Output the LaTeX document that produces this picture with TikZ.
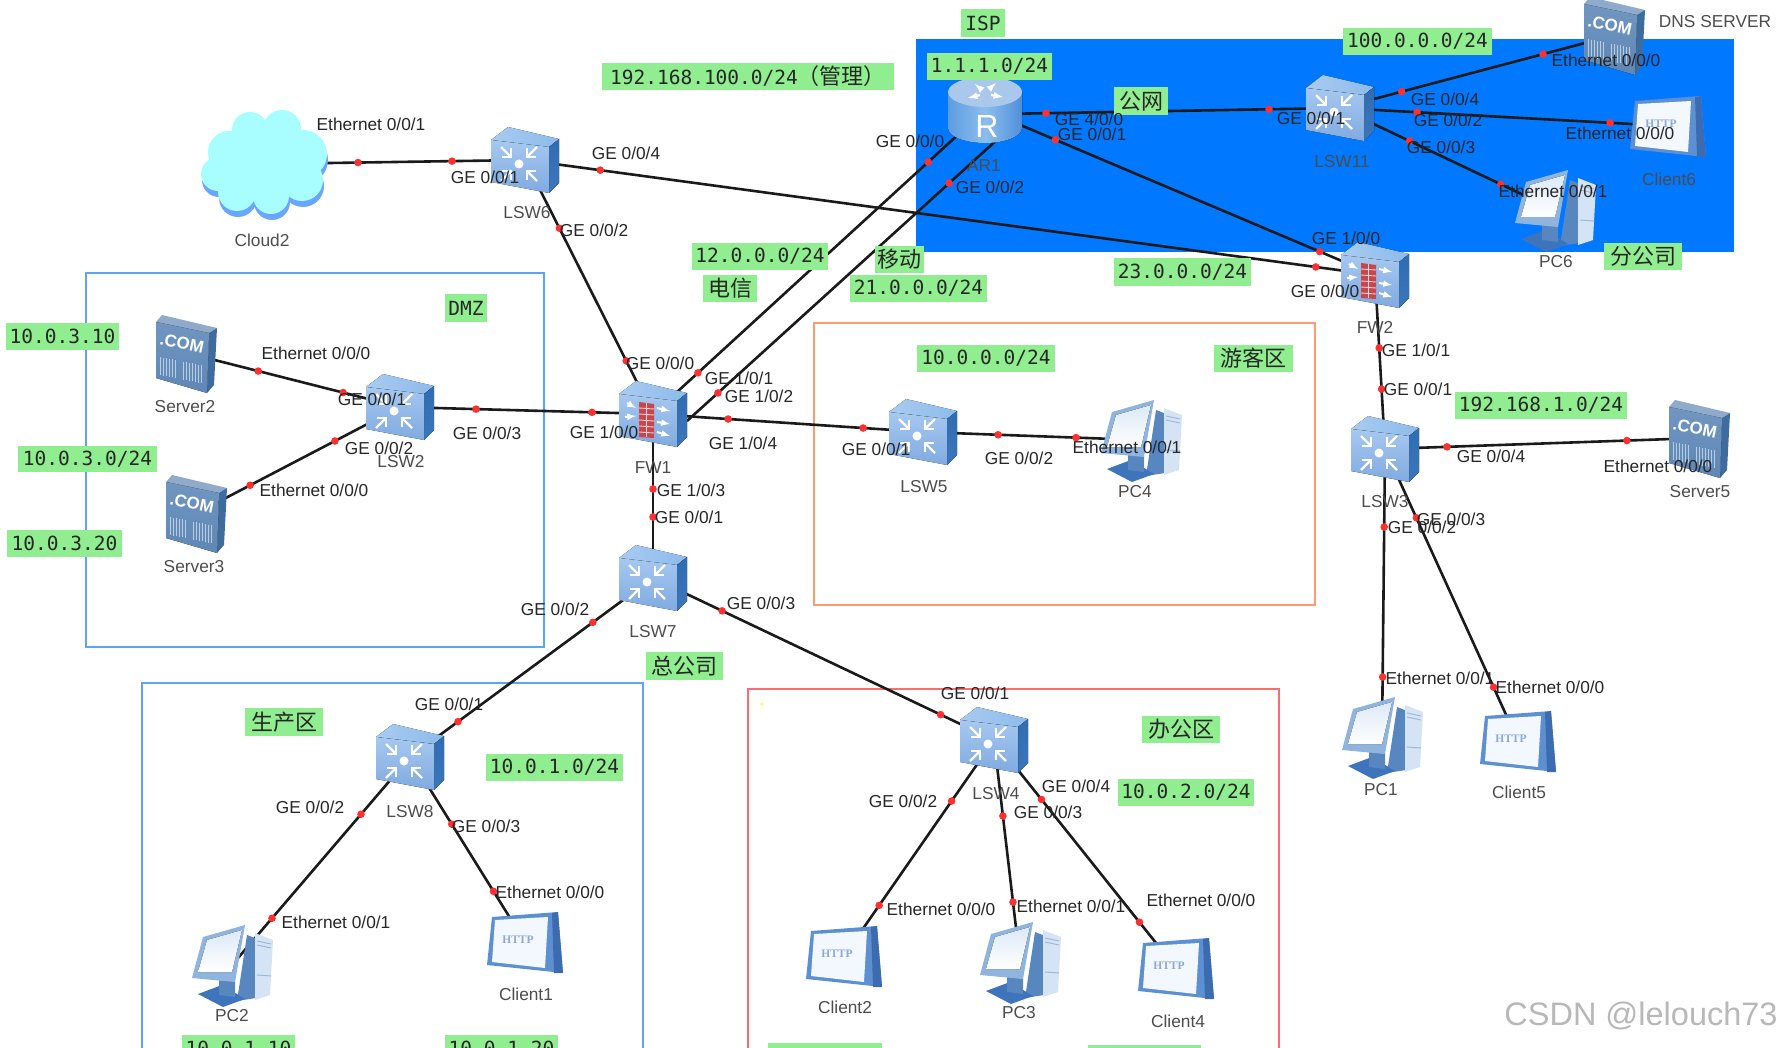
\documentclass[tikz,border=0pt]{standalone}
\usepackage{fontspec}
\setmainfont{Liberation Sans}
\setmonofont{DejaVu Sans Mono}
\newfontfamily\cjkfont{Noto Sans CJK SC}
\newfontfamily\serifhttp{Liberation Serif}
\usetikzlibrary{calc}
\pgfdeclarelayer{zones}
\pgfdeclarelayer{links}
\pgfsetlayers{zones,links,main}
\definecolor{zoneblue}{HTML}{5AA5F5}
\definecolor{zoneorange}{HTML}{FF9A6A}
\definecolor{zonered}{HTML}{FF6B6B}
\definecolor{ispblue}{HTML}{0078FF}
\definecolor{taggreen}{HTML}{90EE90}
\definecolor{dotred}{HTML}{FF3030}
\definecolor{linkdark}{HTML}{1A1A1A}
\definecolor{swtop}{HTML}{8DBBEC}
\definecolor{swtopb}{HTML}{A9CBF0}
\definecolor{swside}{HTML}{2F6DB2}
\definecolor{swsideb}{HTML}{3A76BC}
\definecolor{swfronta}{HTML}{A6C8F0}
\definecolor{swfrontb}{HTML}{80AAE0}
\definecolor{brickred}{HTML}{C8474F}
\definecolor{srvfronta}{HTML}{7096C0}
\definecolor{srvfrontb}{HTML}{5F87B5}
\definecolor{srvtop}{HTML}{8FAACB}
\definecolor{srvside}{HTML}{3F6C9E}
\definecolor{srvstripe}{HTML}{B8CCE2}
\definecolor{pcframe}{HTML}{8FB4DD}
\definecolor{pcscreen}{HTML}{DCE9F7}
\definecolor{pcdark}{HTML}{5787BE}
\definecolor{pclight}{HTML}{D5E4F4}
\definecolor{pcbase}{HTML}{3D74BC}
\definecolor{pcline}{HTML}{9DB8D8}
\definecolor{clframe}{HTML}{5D90D2}
\definecolor{clside}{HTML}{3C6CAF}
\definecolor{clscreen}{HTML}{F3F8FE}
\definecolor{clhttp}{HTML}{8FA8D8}
\definecolor{rtleft}{HTML}{5C9DE0}
\definecolor{rtmid}{HTML}{8DBDEE}
\definecolor{rtright}{HTML}{4F90DA}
\definecolor{rttop}{HTML}{A9C8EC}
\definecolor{cloudfill}{HTML}{A8FDFF}
\definecolor{cloudshade}{HTML}{6AA6FF}
\newcounter{lblc}
\tikzset{
  anchorpt/.style={inner sep=0pt,minimum size=1pt},
  wireline/.style={draw=linkdark,line width=2.6pt},
  zonebox/.style={line width=2pt},
  portlbl/.style={inner sep=0pt,text=black!85,font=\fontsize{17.3}{18}\selectfont},
  devlbl/.style={inner sep=0pt,text=black!70,font=\fontsize{17.3}{18}\selectfont},
  greentag/.style={fill=taggreen,inner sep=0pt,text=black!85,font=\ttfamily\fontsize{19.5}{20}\selectfont},
  swbody/.pic={
    \fill[left color=swtopb,right color=swtop] (-34,-20)--(-17,-33)--(34,-21)--(24,-13)--cycle;
    \fill[top color=swside,bottom color=swsideb] (24,-13)--(34,-21)--(34,23)--(24,33)--cycle;
    \fill[top color=swfronta,bottom color=swfrontb] (-34,-20)--(24,-13)--(24,33)--(-34,22)--cycle;
  },
  swicon/.pic={
    \pic {swbody};
    \fill[white] (-6,4) circle (4.5);
    \foreach \sx/\sy in {-1/-1,1/-1,-1/1,1/1}{
      \draw[white,line width=2.2pt] (-6+\sx*18,4+\sy*17)--(-6+\sx*8,4+\sy*7);
      \draw[white,line width=2.2pt] (-6+\sx*17,4+\sy*7)--(-6+\sx*8,4+\sy*7)--(-6+\sx*8,4+\sy*16);
    }
  },
  fwicon/.pic={
    \pic {swbody};
    \fill[brickred] (-14,-12)--(1,-10)--(1,24)--(-14,23)--cycle;
    \foreach \yy in {-6,0,6,12,18}{\draw[white!75!brickred,line width=.9pt] (-14,\yy)--(1,\yy+1);}
    \draw[white!75!brickred,line width=.9pt] (-7,-11)--(-7,23);
    \foreach \ax/\ay/\bx/\by in {-26/-11/-17/-6,-28/3/-17/2,4/-6/17/-3,4/8/17/10,4/18/17/22}{
      \draw[white,line width=2pt,-latex] (\ax,\ay)--(\bx,\by);
    }
  },
  routericon/.pic={
    \fill[left color=rtleft,right color=rtright,middle color=rtmid]
      (-37,-18) -- (-37,18) arc[start angle=180,end angle=0,x radius=37,y radius=15] -- (37,-18) -- cycle;
    \fill[rttop] (0,-18) ellipse[x radius=37,y radius=15];
    \foreach \a/\b/\c/\d in {-3/-20/-10/-26,4/-21/11/-27,-5/-15/-17/-12,6/-15/18/-13}{
      \draw[white,line width=2.2pt,-latex] (\a,\b)--(\c,\d);
    }
    \node[inner sep=0pt,text=white,font=\fontsize{32}{32}\selectfont] (rglyph) at (2,16) {R};
  },
  srvicon/.pic={
    \fill[srvtop] (-31,-31)--(-25,-38)--(30,-25)--(22,-20)--cycle;
    \fill[srvside] (22,-20)--(30,-25)--(27,32)--(20,40)--cycle;
    \fill[top color=srvfronta,bottom color=srvfrontb] (-31,-31)--(22,-20)--(20,40)--(-31,25)--cycle;
    \foreach \xx in {-27,-24,-21,-18,-15,-12,-4,-1,2,5,8,11,14}{
      \draw[srvstripe,line width=.8pt] (\xx,{4+(\xx+27)*.2})--(\xx,{22+(\xx+27)*.2});
    }
    \node[inner sep=0pt,text=white,rotate=-12,font=\bfseries\fontsize{17}{17}\selectfont] (comglyph) at (-5,-10) {.COM};
  },
  pcicon/.pic={
    \fill[pcdark] (15,-30)--(28,-25)--(24,33)--(5,36)--cycle;
    \fill[pclight] (23,-32)--(41,-25)--(38,30)--(23,35)--cycle;
    \draw[pcline,line width=1pt] (25,-24)--(39,-21) (25,-20)--(39,-17) (25,10)--(39,11);
    \fill[pcbase] (-34,29)--(-10,20)--(13,34)--(-9,42)--cycle;
    \fill[pcdark] (-13,14)--(3,16)--(3,32)--(-13,30)--cycle;
    \fill[pcframe] (-29,-28)--(13,-40)--(3,17)--(-40,13)--cycle;
    \fill[top color=pcscreen,bottom color=white] (-25,-25)--(10,-35)--(0,7)--(-34,7)--cycle;
  },
  clicon/.pic={
    \fill[clframe] (-33,-25)--(33,-30)--(38,31)--(-38,23)--cycle;
    \fill[clside] (27,-29)--(33,-30)--(38,31)--(29,31)--cycle;
    \fill[clscreen] (-30,-22)--(23,-25)--(20,26)--(-33,20)--cycle;
    \node[inner sep=0pt,text=clhttp,font=\serifhttp\bfseries\fontsize{11.5}{12}\selectfont] (httpglyph) at (-7,-2) {HTTP};
  },
  cloudicon/.pic={
    \foreach \fc/\dx/\dy in {cloudshade/1/6,cloudfill/0/0}{
      \fill[\fc,shift={(\dx,\dy)}]
        (-15,-34) circle (18) (17,-35) circle (19) (-36,-12) circle (21) (38,-10) circle (24)
        (-47,10) circle (17) (-28,28) circle (19) (6,32) circle (18) (37,16) circle (21) (0,0) circle (38);
    }
  },
}
\newcommand\place[4]{\node[anchorpt] (#1) at (#2,#3) {}; \pic at (#1) {#4};}
\newcommand\wire[6]{%
  \begin{pgfonlayer}{links}\draw[wireline] (#1)--(#2);\end{pgfonlayer}%
  \fill[dotred] ($(#1)!(#3,#4)!(#2)$) circle (3.8);
  \fill[dotred] ($(#1)!(#5,#6)!(#2)$) circle (3.8);
}
\newcommand\lbl[3]{\stepcounter{lblc}\edef\nmx{t\arabic{lblc}}\node[portlbl] (\nmx) at (#1,#2) {#3};}
\newcommand\dlbl[3]{\stepcounter{lblc}\edef\nmx{t\arabic{lblc}}\node[devlbl] (\nmx) at (#1,#2) {#3};}
\newcommand\glab[5]{\stepcounter{lblc}\edef\nmx{t\arabic{lblc}}\node[greentag,minimum width=#3pt-#1pt,minimum height=#4pt-#2pt] (\nmx) at ($(#1,#2)!.5!(#3,#4)$) {#5};}
\begin{document}
\begin{tikzpicture}[x=1pt,y=-1pt]
\useasboundingbox (0,0) rectangle (1784,1048);
\begin{pgfonlayer}{zones}
  \fill[ispblue] (916,39) rectangle (1734,252);
  \draw[zonebox,zoneblue] (86,273) rectangle (544,647);
  \draw[zonebox,zoneblue] (142,683) rectangle (643,1070);
  \draw[zonebox,zoneorange] (814,323) rectangle (1315,605);
  \draw[zonebox,zonered] (748,689) rectangle (1279,1070);
\end{pgfonlayer}
\fill[yellow!60!white] (762,704) circle (1.8);
% devices
\place{Cloud2}{265}{164}{cloudicon}
\place{LSW6}{525}{160}{swicon}
\place{LSW2}{400}{407}{swicon}
\place{FW1}{653}{414}{fwicon}
\place{LSW7}{653}{578}{swicon}
\place{LSW8}{410}{757}{swicon}
\place{LSW4}{994}{740}{swicon}
\place{LSW5}{923}{432}{swicon}
\place{LSW3}{1385}{449}{swicon}
\place{LSW11}{1340}{108}{swicon}
\place{FW2}{1375}{275}{fwicon}
\place{AR1}{985}{110}{routericon}
\place{Server2}{187}{353}{srvicon}
\place{Server3}{197}{513}{srvicon}
\place{DNS}{1615}{35}{srvicon}
\place{Server5}{1700}{438}{srvicon}
\place{PC6}{1555}{210}{pcicon}
\place{PC4}{1141}{440}{pcicon}
\place{PC2}{232}{965}{pcicon}
\place{PC3}{1020}{962}{pcicon}
\place{PC1}{1382}{737}{pcicon}
\place{Client6}{1668}{126}{clicon}
\place{Client1}{525}{942}{clicon}
\place{Client2}{844}{956}{clicon}
\place{Client4}{1176}{968}{clicon}
\place{Client5}{1518}{741}{clicon}
\coordinate (fwb) at (687,421);
\coordinate (arb) at (1000,137);
\coordinate (are) at (1000,114);
% links
\wire{Cloud2}{LSW6}{358}{163}{452}{162}
\wire{LSW6}{FW2}{600}{172}{1316}{266}
\wire{LSW6}{FW1}{560}{228}{626}{361}
\wire{Server2}{LSW2}{258}{372}{343}{393}
\wire{Server3}{LSW2}{251}{487}{336}{443}
\wire{LSW2}{FW1}{476}{411}{592}{413}
\wire{FW1}{LSW5}{728}{421}{863}{430}
\wire{FW1}{LSW7}{653}{489}{653}{517}
\wire{FW1}{AR1}{699}{374}{930}{164}
\wire{fwb}{arb}{718}{393}{949}{183}
\wire{are}{LSW11}{1046}{113}{1269}{111}
\wire{AR1}{FW2}{1054}{143}{1320}{251}
\wire{LSW11}{DNS}{1402}{93}{1543}{54}
\wire{LSW11}{Client6}{1417}{113}{1610}{124}
\wire{LSW11}{PC6}{1410}{140}{1501}{184}
\wire{FW2}{LSW3}{1379}{348}{1382}{389}
\wire{LSW3}{Server5}{1447}{448}{1627}{443}
\wire{LSW5}{PC4}{998}{437}{1076}{438}
\wire{LSW3}{PC1}{1383}{527}{1382}{677}
\wire{LSW3}{Client5}{1418}{517}{1494}{687}
\wire{LSW7}{LSW8}{594}{624}{459}{723}
\wire{LSW7}{LSW4}{722}{611}{940}{716}
\wire{LSW8}{PC2}{363}{816}{274}{920}
\wire{LSW8}{Client1}{452}{824}{494}{891}
\wire{LSW4}{Client2}{953}{802}{880}{906}
\wire{LSW4}{PC3}{1003}{816}{1014}{902}
\wire{LSW4}{Client4}{1042}{799}{1141}{921}
% green tags
\glab{602}{63}{894}{90}{192.168.100.0/24{\cjkfont\fontsize{22}{22}\selectfont （管理）}}
\glab{692}{243}{828}{270}{12.0.0.0/24}
\glab{703}{275}{757}{302}{\cjkfont\fontsize{22}{22}\selectfont 电信}
\glab{875}{246}{924}{273}{\cjkfont\fontsize{22}{22}\selectfont 移动}
\glab{850}{275}{987}{302}{21.0.0.0/24}
\glab{445}{294}{487}{322}{DMZ}
\glab{6}{323}{119}{350}{10.0.3.10}
\glab{18}{446}{157}{472}{10.0.3.0/24}
\glab{7}{530}{122}{557}{10.0.3.20}
\glab{961}{9}{1005}{37}{ISP}
\glab{927}{53}{1052}{80}{1.1.1.0/24}
\glab{1114}{87}{1168}{115}{\cjkfont\fontsize{22}{22}\selectfont 公网}
\glab{1343}{28}{1492}{55}{100.0.0.0/24}
\glab{1604}{243}{1682}{270}{\cjkfont\fontsize{22}{22}\selectfont 分公司}
\glab{1114}{258}{1251}{286}{23.0.0.0/24}
\glab{917}{345}{1055}{372}{10.0.0.0/24}
\glab{1214}{345}{1293}{372}{\cjkfont\fontsize{22}{22}\selectfont 游客区}
\glab{1455}{392}{1627}{419}{192.168.1.0/24}
\glab{646}{652}{723}{680}{\cjkfont\fontsize{22}{22}\selectfont 总公司}
\glab{245}{708}{323}{736}{\cjkfont\fontsize{22}{22}\selectfont 生产区}
\glab{486}{754}{623}{781}{10.0.1.0/24}
\glab{1142}{716}{1220}{743}{\cjkfont\fontsize{22}{22}\selectfont 办公区}
\glab{1118}{779}{1254}{806}{10.0.2.0/24}
\glab{182}{1035}{295}{1062}{10.0.1.10}
\glab{445}{1035}{558}{1062}{10.0.1.20}
\glab{768}{1043}{882}{1070}{10.0.2.10}
\glab{1088}{1045}{1201}{1072}{10.0.2.20}
% port labels
\lbl{371}{124}{Ethernet 0/0/1}
\lbl{485}{177}{GE 0/0/1}
\lbl{626}{153}{GE 0/0/4}
\lbl{594}{230}{GE 0/0/2}
\lbl{316}{353}{Ethernet 0/0/0}
\lbl{372}{399}{GE 0/0/1}
\lbl{487}{433}{GE 0/0/3}
\lbl{604}{432}{GE 1/0/0}
\lbl{379}{448}{GE 0/0/2}
\lbl{314}{490}{Ethernet 0/0/0}
\lbl{660}{363}{GE 0/0/0}
\lbl{739}{378}{GE 1/0/1}
\lbl{759}{396}{GE 1/0/2}
\lbl{743}{443}{GE 1/0/4}
\lbl{876}{449}{GE 0/0/1}
\lbl{691}{490}{GE 1/0/3}
\lbl{689}{517}{GE 0/0/1}
\lbl{555}{609}{GE 0/0/2}
\lbl{761}{603}{GE 0/0/3}
\lbl{449}{704}{GE 0/0/1}
\lbl{310}{807}{GE 0/0/2}
\lbl{486}{826}{GE 0/0/3}
\lbl{550}{892}{Ethernet 0/0/0}
\lbl{336}{922}{Ethernet 0/0/1}
\lbl{910}{141}{GE 0/0/0}
\lbl{990}{187}{GE 0/0/2}
\lbl{1089}{119}{GE 4/0/0}
\lbl{1092}{134}{GE 0/0/1}
\lbl{1311}{118}{GE 0/0/1}
\lbl{1445}{99}{GE 0/0/4}
\lbl{1448}{120}{GE 0/0/2}
\lbl{1441}{147}{GE 0/0/3}
\lbl{1606}{60}{Ethernet 0/0/0}
\lbl{1620}{133}{Ethernet 0/0/0}
\lbl{1553}{191}{Ethernet 0/0/1}
\lbl{1346}{238}{GE 1/0/0}
\lbl{1325}{291}{GE 0/0/0}
\lbl{1416}{350}{GE 1/0/1}
\lbl{1418}{389}{GE 0/0/1}
\lbl{1019}{458}{GE 0/0/2}
\lbl{1127}{447}{Ethernet 0/0/1}
\lbl{1491}{456}{GE 0/0/4}
\lbl{1658}{466}{Ethernet 0/0/0}
\lbl{1451}{519}{GE 0/0/3}
\lbl{1422}{527}{GE 0/0/2}
\lbl{975}{693}{GE 0/0/1}
\lbl{903}{801}{GE 0/0/2}
\lbl{1076}{786}{GE 0/0/4}
\lbl{1048}{812}{GE 0/0/3}
\lbl{941}{909}{Ethernet 0/0/0}
\lbl{1071}{906}{Ethernet 0/0/1}
\lbl{1201}{900}{Ethernet 0/0/0}
\lbl{1440}{678}{Ethernet 0/0/1}
\lbl{1550}{687}{Ethernet 0/0/0}
% device names
\dlbl{262}{240}{Cloud2}
\dlbl{527}{213}{LSW6}
\dlbl{185}{407}{Server2}
\dlbl{401}{462}{LSW2}
\dlbl{653}{468}{FW1}
\dlbl{194}{567}{Server3}
\dlbl{653}{632}{LSW7}
\dlbl{410}{812}{LSW8}
\dlbl{232}{1016}{PC2}
\dlbl{526}{994}{Client1}
\dlbl{845}{1007}{Client2}
\dlbl{984}{166}{AR1}
\dlbl{1342}{162}{LSW11}
\dlbl{1715}{22}{DNS SERVER}
\dlbl{1669}{179}{Client6}
\dlbl{1556}{262}{PC6}
\dlbl{1375}{327}{FW2}
\dlbl{924}{487}{LSW5}
\dlbl{1135}{492}{PC4}
\dlbl{1700}{492}{Server5}
\dlbl{1385}{502}{LSW3}
\dlbl{996}{794}{LSW4}
\dlbl{1019}{1013}{PC3}
\dlbl{1178}{1021}{Client4}
\dlbl{1381}{790}{PC1}
\dlbl{1519}{792}{Client5}
\node[inner sep=0pt,text=black!28,font=\fontsize{32.5}{33}\selectfont] (watermark) at (1641,1016) {CSDN @lelouch73};
\end{tikzpicture}
\end{document}
